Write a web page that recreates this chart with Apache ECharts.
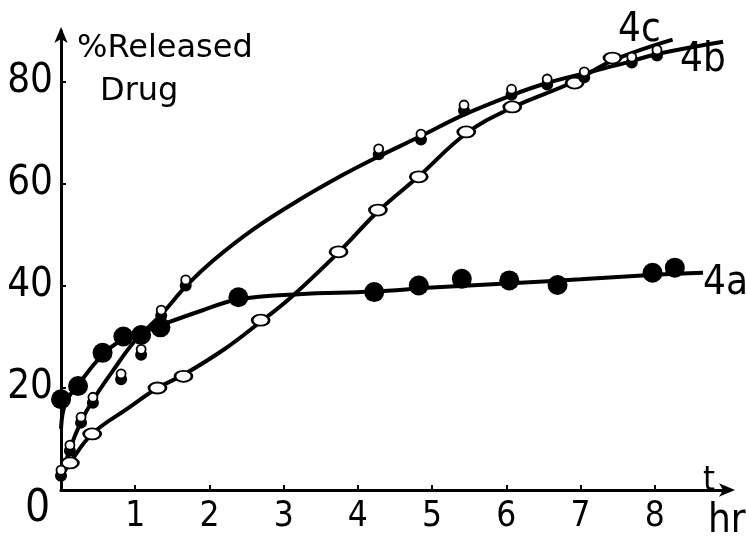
<!DOCTYPE html>
<html>
<head>
<meta charset="utf-8">
<script src="https://cdn.jsdelivr.net/npm/echarts@6/dist/echarts.min.js"></script>
<style>html,body{margin:0;padding:0;background:#fff;}#c{width:746px;height:537px;}</style>
</head>
<body>
<div id="c"></div>
<script>
// ---- data ----
const xTicks = [1, 2, 3, 4, 5, 6, 7, 8];
const yTicks = [20, 40, 60, 80];

// 4a: filled circles
const marks4a = [[0, 17.8], [0.23, 20.4], [0.56, 26.9], [0.84, 30.1], [1.08, 30.4], [1.34, 31.9], [2.39, 37.8], [4.22, 38.8], [4.82, 40.1], [5.4, 41.4], [6.04, 41.1], [6.69, 40.2], [7.97, 42.6], [8.27, 43.6]];
const curve4a = [[0, 12], [0.06, 17], [0.23, 20.6], [0.56, 26.5], [0.84, 29.6], [1.08, 30.8], [1.34, 32.3], [1.9, 35.2], [2.39, 37.4], [3.2, 38.4], [4.2, 38.9], [5.0, 39.7], [6.0, 40.5], [7.0, 41.3], [8.0, 42.2], [8.65, 42.6]];

// 4b: half-filled circles
const marks4b = [[0, 3.3], [0.12, 8.2], [0.27, 13.7], [0.43, 17.6], [0.81, 22.2], [1.08, 27], [1.35, 34.7], [1.68, 40.6], [4.28, 66.3], [4.85, 69.2], [5.43, 74.9], [6.07, 78], [6.55, 80], [7.05, 81.4], [7.69, 84.3], [8.03, 85.7]];
const curve4b = [[0, 2], [0.12, 8], [0.27, 13.4], [0.43, 17.6], [0.7, 23.4], [1.0, 29.3], [1.35, 34.4], [1.7, 40.2], [2.05, 45], [2.6, 51.2], [3.2, 56.8], [3.8, 61.8], [4.28, 65.4], [4.85, 69.4], [5.43, 73.6], [6.07, 77.4], [6.55, 79.8], [7.08, 81.8], [7.69, 84.1], [8.03, 85.5], [8.92, 87.9]];

// 4c: open ellipses
const marks4c = [[0.12, 5.3], [0.42, 11], [1.3, 20], [1.65, 22.3], [2.69, 33.3], [3.74, 46.7], [4.27, 54.9], [4.82, 61.4], [5.46, 70.2], [6.08, 75.1], [6.92, 79.8], [7.43, 84.7]];
const curve4c = [[0, 2.5], [0.12, 5.3], [0.42, 11], [0.9, 16], [1.3, 20], [1.65, 22.6], [2.2, 27.6], [2.69, 33], [3.1, 37.8], [3.74, 46.6], [4.27, 54.6], [4.82, 61.5], [5.46, 69.9], [6.08, 75], [6.9, 80], [7.43, 84.2], [8.24, 88.3]];

const FONT = "'DejaVu Sans Condensed', 'Liberation Sans Narrow', 'DejaVu Sans', sans-serif";

const chart = echarts.init(document.getElementById('c'), null, {renderer: 'canvas'});

function curve(data) {
  return {type: 'line', data: data, smooth: 0.4, symbol: 'none', silent: true,
    lineStyle: {color: '#000', width: 4}, z: 2};
}

chart.setOption({
  animation: false,
  backgroundColor: '#fff',
  grid: {left: 61, right: 17, top: 31, bottom: 47, containLabel: false},
  xAxis: {
    type: 'value', min: 0, max: 9, interval: 1,
    axisLine: {lineStyle: {color: '#000', width: 3}, symbol: ['none', 'arrow'], symbolSize: [10, 16], symbolOffset: [0, 6]},
    axisTick: {show: true, inside: true, length: 5, lineStyle: {color: '#000', width: 2}, customValues: xTicks},
    axisLabel: {color: '#000', fontSize: 35, fontFamily: FONT, margin: 9, customValues: xTicks},
    splitLine: {show: false}
  },
  yAxis: {
    type: 'value', min: 0, max: 90, interval: 10,
    axisLine: {lineStyle: {color: '#000', width: 3}, symbol: ['none', 'arrow'], symbolSize: [10, 16], symbolOffset: [0, 4]},
    axisTick: {show: true, inside: true, length: 5, lineStyle: {color: '#000', width: 2}, customValues: yTicks},
    axisLabel: {color: '#000', fontSize: 40, fontFamily: FONT, margin: 8, customValues: yTicks},
    splitLine: {show: false}
  },
  series: [
    curve(curve4a), curve(curve4b), curve(curve4c),
    {type: 'scatter', data: marks4c, symbol: 'circle', symbolSize: [17, 11], z: 3,
      itemStyle: {color: '#fff', borderColor: '#000', borderWidth: 2.2, opacity: 1}},
    {type: 'scatter', data: marks4b, symbol: 'circle', symbolSize: 12, symbolOffset: [0, 2.5], z: 3,
      itemStyle: {color: '#000', opacity: 1}},
    {type: 'scatter', data: marks4b, symbol: 'circle', symbolSize: 9, symbolOffset: [0, -3], z: 4,
      itemStyle: {color: '#fff', borderColor: '#000', borderWidth: 1.8, opacity: 1}},
    {type: 'scatter', data: marks4a, symbol: 'circle', symbolSize: 20, z: 5,
      itemStyle: {color: '#000', opacity: 1}}
  ],
  graphic: [
    {type: 'text', left: 77, top: 33, style: {text: '%Released', font: "32px 'DejaVu Sans', sans-serif", fill: '#000'}},
    {type: 'text', left: 100, top: 76, style: {text: 'Drug', font: "32px 'DejaVu Sans', sans-serif", fill: '#000'}},
    {type: 'text', left: 618, top: 11, style: {text: '4c', font: "40px " + FONT, fill: '#000'}},
    {type: 'text', left: 680, top: 41, style: {text: '4b', font: "40px " + FONT, fill: '#000'}},
    {type: 'text', left: 703, top: 264, style: {text: '4a', font: "40px " + FONT, fill: '#000'}},
    {type: 'text', left: 703, top: 464, style: {text: 't', font: "34px " + FONT, fill: '#000'}},
    {type: 'text', left: 708, top: 502, style: {text: 'hr', font: "40px " + FONT, fill: '#000'}},
    {type: 'text', left: 25, top: 488, style: {text: '0', font: "44px " + FONT, fill: '#000'}}
  ]
});
</script>
</body>
</html>
